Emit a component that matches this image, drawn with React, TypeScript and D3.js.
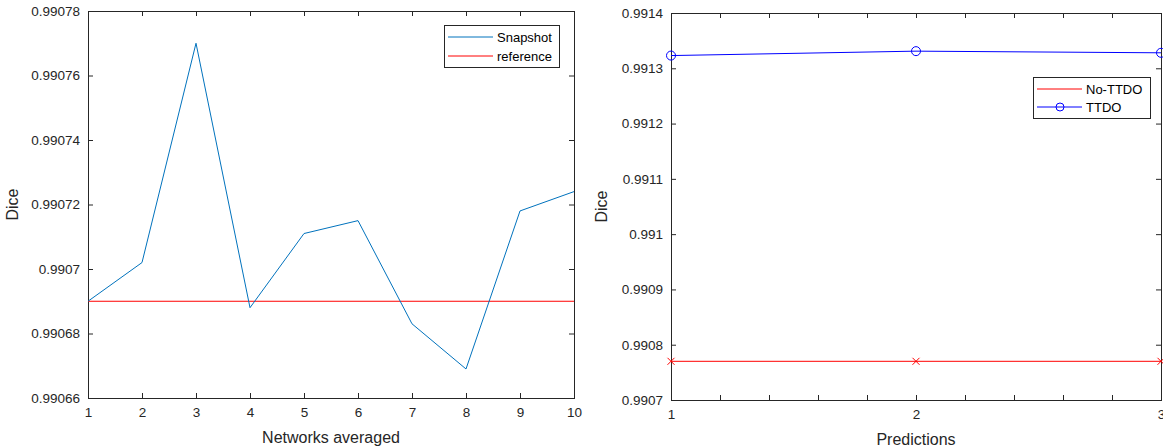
import { useEffect, useRef } from 'react';
import * as d3 from 'd3';

// left panel: snapshot ensembles
const networks = [1, 2, 3, 4, 5, 6, 7, 8, 9, 10];
const snapshot = [0.99069, 0.990702, 0.99077, 0.990688, 0.990711, 0.990715, 0.990683, 0.990669, 0.990718, 0.990724];
const referenceDice = 0.99069;

// right panel: test-time dropout
const predictions = [1, 2, 3];
const noTTDO = [0.99077, 0.99077, 0.99077];
const ttdo = [0.991323, 0.991331, 0.991328];

const W = 1163;
const H = 447;
const AXIS = '#262626';
const FONT = '"Liberation Sans", Arial, sans-serif';

function styleAxis(sel, hideLabels = false) {
  sel.select('.domain').remove();
  sel.selectAll('line').attr('stroke', AXIS);
  sel.selectAll('text')
    .attr('fill', AXIS)
    .attr('font-family', FONT)
    .attr('font-size', 13.5);
  if (hideLabels) sel.selectAll('text').remove();
}

function frame(svg, x, y, opts) {
  const [x0, x1] = x.range();
  const [y1, y0] = y.range();
  const g = svg.append('g');
  const tick = 5;

  g.append('rect')
    .attr('x', x0).attr('y', y0)
    .attr('width', x1 - x0).attr('height', y1 - y0)
    .attr('fill', '#fff');

  // bottom + top
  const bx = g.append('g').attr('transform', `translate(0,${y1})`)
    .call(d3.axisBottom(x).tickValues(opts.xTicks).tickSizeInner(-tick).tickSizeOuter(0).tickPadding(9).tickFormat(d3.format('d')));
  styleAxis(bx);
  const tx = g.append('g').attr('transform', `translate(0,${y0})`)
    .call(d3.axisTop(x).tickValues(opts.xTicks).tickSizeInner(-tick).tickSizeOuter(0));
  styleAxis(tx, true);
  if (opts.xMinor) {
    [[y1, 'axisBottom'], [y0, 'axisTop']].forEach(([yy, fn]) => {
      const m = g.append('g').attr('transform', `translate(0,${yy})`)
        .call(d3[fn](x).tickValues(opts.xMinor).tickSizeInner(-tick).tickSizeOuter(0));
      styleAxis(m, true);
    });
  }

  // left + right
  const ly = g.append('g').attr('transform', `translate(${x0},0)`)
    .call(d3.axisLeft(y).tickValues(opts.yTicks).tickSizeInner(-tick).tickSizeOuter(0).tickPadding(8).tickFormat(d => String(+d.toFixed(6))));
  styleAxis(ly);
  const ry = g.append('g').attr('transform', `translate(${x1},0)`)
    .call(d3.axisRight(y).tickValues(opts.yTicks).tickSizeInner(-tick).tickSizeOuter(0));
  styleAxis(ry, true);

  svg.append('rect')
    .attr('x', x0 + 0.5).attr('y', y0 + 0.5)
    .attr('width', x1 - x0).attr('height', y1 - y0)
    .attr('fill', 'none').attr('stroke', AXIS).attr('stroke-width', 1);

  svg.append('text')
    .attr('x', (x0 + x1) / 2).attr('y', y1 + 45)
    .attr('text-anchor', 'middle')
    .attr('fill', AXIS).attr('font-family', FONT).attr('font-size', 16)
    .text(opts.xLabel);

  svg.append('text')
    .attr('transform', `translate(${opts.yLabelX},${(y0 + y1) / 2}) rotate(-90)`)
    .attr('text-anchor', 'middle')
    .attr('fill', AXIS).attr('font-family', FONT).attr('font-size', 16)
    .text('Dice');
}

function legend(svg, x, y, w, h, items) {
  const g = svg.append('g').attr('transform', `translate(${x},${y})`);
  g.append('rect').attr('x', 0.5).attr('y', 0.5).attr('width', w).attr('height', h)
    .attr('fill', '#fff').attr('stroke', AXIS).attr('stroke-width', 1);
  items.forEach((it, i) => {
    const cy = it.dy;
    g.append('line').attr('x1', 4).attr('x2', 49).attr('y1', cy).attr('y2', cy)
      .attr('stroke', it.color).attr('stroke-width', 1);
    if (it.marker === 'o') {
      g.append('circle').attr('cx', 27).attr('cy', cy).attr('r', 4)
        .attr('fill', 'none').attr('stroke', it.color);
    }
    g.append('text').attr('x', 53).attr('y', cy).attr('dy', '0.36em')
      .attr('fill', '#000').attr('font-family', FONT).attr('font-size', 13)
      .text(it.label);
  });
}

export default function App() {
  const svgRef = useRef(null);

  useEffect(() => {
    const svg = d3.select(svgRef.current);
    svg.selectAll('*').remove();

    // ---- left panel
    const xL = d3.scaleLinear().domain([1, 10]).range([88, 574]);
    const yL = d3.scaleLinear().domain([0.99066, 0.99078]).range([398, 11]);
    frame(svg, xL, yL, {
      xTicks: networks,
      yTicks: yL.ticks(6),
      xLabel: 'Networks averaged',
      yLabelX: 18,
    });
    svg.append('line')
      .attr('x1', xL(1)).attr('x2', xL(10))
      .attr('y1', yL(referenceDice)).attr('y2', yL(referenceDice))
      .attr('stroke', '#ff0000').attr('stroke-width', 1);
    const lineL = d3.line().x((d, i) => xL(networks[i])).y(d => yL(d));
    svg.append('path').datum(snapshot).attr('d', lineL)
      .attr('fill', 'none').attr('stroke', '#0072bd').attr('stroke-width', 1);
    legend(svg, 444, 25, 115, 42, [
      { label: 'Snapshot', color: '#0072bd', dy: 12 },
      { label: 'reference', color: '#ff0000', dy: 31 },
    ]);

    // ---- right panel
    const xR = d3.scaleLinear().domain([1, 3]).range([671, 1161]);
    const yR = d3.scaleLinear().domain([0.9907, 0.9914]).range([400, 13]);
    frame(svg, xR, yR, {
      xTicks: predictions,
      xMinor: d3.range(1.2, 3, 0.2).filter(v => Math.abs(v - 2) > 1e-6),
      yTicks: yR.ticks(7),
      xLabel: 'Predictions',
      yLabelX: 607,
    });
    const lineR = vals => d3.line().x((d, i) => xR(predictions[i])).y(d => yR(d))(vals);
    svg.append('path').attr('d', lineR(noTTDO))
      .attr('fill', 'none').attr('stroke', '#ff0000').attr('stroke-width', 1);
    noTTDO.forEach((v, i) => {
      const cx = xR(predictions[i]);
      const cy = yR(v);
      svg.append('path').attr('d', `M${cx - 3.5},${cy - 3.5}L${cx + 3.5},${cy + 3.5}M${cx - 3.5},${cy + 3.5}L${cx + 3.5},${cy - 3.5}`)
        .attr('stroke', '#ff0000').attr('stroke-width', 1);
    });
    svg.append('path').attr('d', lineR(ttdo))
      .attr('fill', 'none').attr('stroke', '#0000ff').attr('stroke-width', 1);
    ttdo.forEach((v, i) => {
      svg.append('circle').attr('cx', xR(predictions[i])).attr('cy', yR(v)).attr('r', 4.5)
        .attr('fill', 'none').attr('stroke', '#0000ff').attr('stroke-width', 1);
    });
    legend(svg, 1033, 77, 117, 41, [
      { label: 'No-TTDO', color: '#ff0000', dy: 12 },
      { label: 'TTDO', color: '#0000ff', dy: 30, marker: 'o' },
    ]);
  }, []);

  return (
    <svg ref={svgRef} width={W} height={H}
      style={{ position: 'absolute', left: 0, top: 0, background: '#fff' }} />
  );
}
